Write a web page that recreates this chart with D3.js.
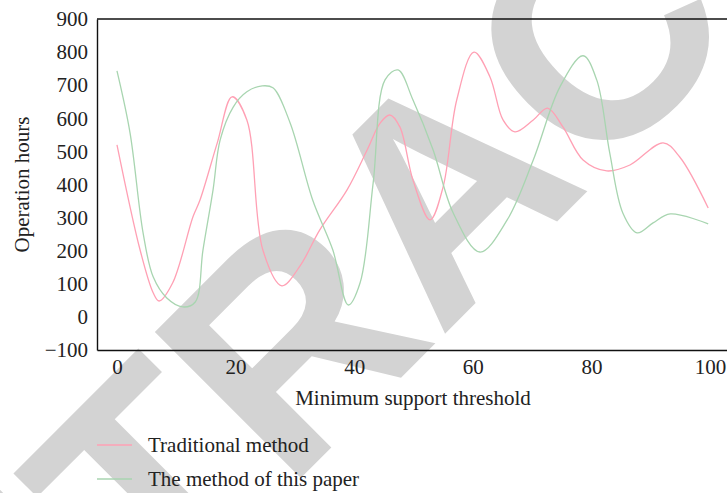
<!DOCTYPE html>
<html>
<head>
<meta charset="utf-8">
<script src="https://cdn.jsdelivr.net/npm/d3@7"></script>
<style>
  html, body { margin: 0; padding: 0; background: #fff; }
  svg { display: block; font-family: "Liberation Serif", "Times New Roman", serif; }
</style>
</head>
<body>
<svg width="727" height="493"></svg>
<script>
// values
const tradX = [0, 3.9, 6.1, 7.1, 9.4, 12.8, 14, 16.9, 19.4, 21.9, 24.6, 27.8, 30.9, 34.2, 38.8, 42.2, 44.4, 46, 47.7, 49.9, 52.8, 55, 57.3, 60.2, 62.9, 65.1, 67.1, 70.2, 72.6, 75.2, 78.6, 82.6, 86.5, 92.1, 94.9, 99.7];
const tradY = [520, 202, 73, 48, 103, 302, 353, 525, 665, 595, 202, 94, 155, 263, 384, 505, 586, 610, 574, 414, 293, 393, 656, 800, 725, 595, 559, 595, 631, 574, 474, 441, 459, 526, 483, 329];

const paperX = [0, 2.2, 4.4, 6.1, 8.4, 11.1, 13.2, 14.5, 16.2, 17.4, 19.6, 21.9, 24.5, 26.3, 29.2, 33, 36.4, 39, 41, 43.2, 45.2, 47.4, 49.9, 53.3, 56.7, 61.2, 65.8, 70.2, 74.7, 78.6, 80.9, 83.1, 85.3, 87.7, 90.4, 93.3, 99.7];
const paperY = [743, 556, 254, 121, 57, 30, 45, 202, 384, 535, 634, 680, 698, 692, 586, 353, 202, 36, 103, 405, 716, 746, 656, 505, 314, 196, 293, 474, 695, 789, 716, 495, 314, 254, 284, 311, 281];

const xTicks = [0, 20, 40, 60, 80, 100];
const yTicks = [-100, 0, 100, 200, 300, 400, 500, 600, 700, 800, 900];
const seriesNames = ['Traditional method', 'The method of this paper'];
const colors = ['#ffa0b4', '#a8d5b0'];

const svg = d3.select('svg');

const x = d3.scaleLinear().domain([-3.37, 102.87]).range([97, 727]);
const y = d3.scaleLinear().domain([-100, 900]).range([350, 19]);

// watermark
svg.append('g')
  .attr('transform', 'translate(440,186) rotate(-45)')
  .append('text')
  .attr('text-anchor', 'middle')
  .attr('dy', '0.36em')
  .attr('font-family', '"Liberation Sans", Arial, sans-serif')
  .attr('font-weight', 'bold')
  .attr('font-size', 300)
  .attr('fill', '#d3d3d3')
  .text('RETRACTED');

// lines
const line = d3.line()
  .x(d => x(d[0]))
  .y(d => y(d[1]))
  .curve(d3.curveCatmullRom.alpha(0.5));

const series = [
  d3.zip(tradX, tradY),
  d3.zip(paperX, paperY)
];

svg.selectAll('.series')
  .data(series)
  .join('path')
  .attr('class', 'series')
  .attr('fill', 'none')
  .attr('stroke', (d, i) => colors[i])
  .attr('stroke-width', 1.3)
  .attr('d', line);

// axes
const xAxis = svg.append('g')
  .attr('transform', `translate(0,${y(-100)})`)
  .call(d3.axisBottom(x).tickValues(xTicks).tickSize(0).tickPadding(9));

const yAxis = svg.append('g')
  .attr('transform', `translate(${x.range()[0]},0)`)
  .call(d3.axisLeft(y).tickValues(yTicks).tickSize(0).tickPadding(9));

[xAxis, yAxis].forEach(a => {
  a.select('.domain').attr('stroke', '#111').attr('stroke-width', 1.4);
  a.selectAll('text')
    .attr('font-family', '"Liberation Serif", "Times New Roman", serif')
    .attr('font-size', 21)
    .attr('fill', '#222');
});

// top frame line
svg.append('line')
  .attr('x1', x.range()[0]).attr('x2', x.range()[1])
  .attr('y1', y(900)).attr('y2', y(900))
  .attr('stroke', '#111').attr('stroke-width', 1.4);

// axis titles
svg.append('text')
  .attr('x', 413).attr('y', 405)
  .attr('text-anchor', 'middle')
  .attr('font-size', 21).attr('fill', '#222')
  .text('Minimum support threshold');

svg.append('text')
  .attr('transform', `translate(29,${(y(900) + y(-100)) / 2}) rotate(-90)`)
  .attr('text-anchor', 'middle')
  .attr('font-size', 21).attr('fill', '#222')
  .text('Operation hours');

// legend
const legend = svg.selectAll('.legend')
  .data(seriesNames)
  .join('g')
  .attr('class', 'legend')
  .attr('transform', (d, i) => `translate(97,${445 + i * 34})`);

legend.append('line')
  .attr('x1', 0).attr('x2', 35)
  .attr('stroke', (d, i) => colors[i])
  .attr('stroke-width', 1.3);

legend.append('text')
  .attr('x', 51)
  .attr('dy', '0.33em')
  .attr('font-size', 21).attr('fill', '#222')
  .text(d => d);
</script>
</body>
</html>
